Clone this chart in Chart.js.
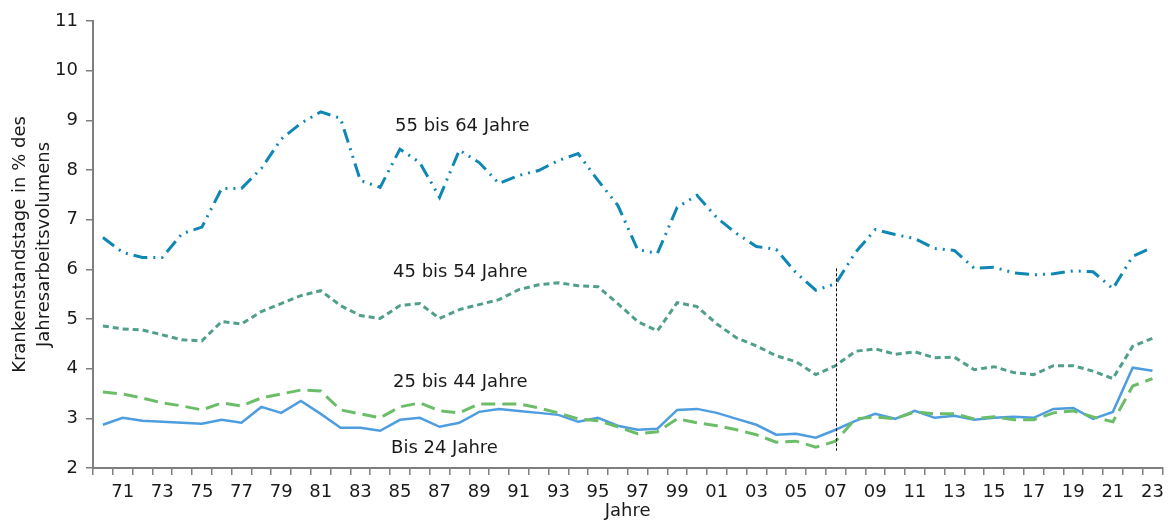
<!DOCTYPE html>
<html>
<head>
<meta charset="utf-8">
<script src="https://cdn.jsdelivr.net/npm/chart.js@4"></script>
<style>
  html, body { margin: 0; padding: 0; background: #fff; }
  #wrap { width: 1171px; height: 522px; }
</style>
</head>
<body>
<div id="wrap"><canvas id="canvas" width="1171" height="522"></canvas></div>
<script>
// Jahre 1970 - 2023
const jahre = [];
for (let j = 1970; j <= 2023; j++) jahre.push(String(j));

const alter55bis64 = [6.64, 6.34, 6.24, 6.24, 6.72, 6.85, 7.63, 7.63, 8.03, 8.62, 8.94, 9.17, 9.04, 7.79, 7.65, 8.42,
  8.15, 7.45, 8.40, 8.15, 7.73, 7.89, 7.99, 8.19, 8.33, 7.79, 7.29, 6.40, 6.32, 7.25, 7.49, 7.04,
  6.72, 6.46, 6.40, 5.93, 5.58, 5.71, 6.34, 6.80, 6.70, 6.62, 6.42, 6.38, 6.02, 6.04, 5.93, 5.89,
  5.91, 5.97, 5.95, 5.61, 6.26, 6.44];

const alter45bis54 = [4.86, 4.80, 4.78, 4.68, 4.58, 4.56, 4.95, 4.90, 5.15, 5.31, 5.47, 5.57, 5.27, 5.07, 5.01, 5.27,
  5.31, 5.01, 5.19, 5.29, 5.39, 5.59, 5.69, 5.73, 5.67, 5.65, 5.31, 4.95, 4.76, 5.33, 5.25, 4.90,
  4.62, 4.46, 4.26, 4.14, 3.88, 4.06, 4.35, 4.40, 4.29, 4.34, 4.22, 4.23, 3.98, 4.04, 3.92, 3.88,
  4.06, 4.06, 3.95, 3.80, 4.45, 4.61];

const alter25bis44 = [3.53, 3.49, 3.41, 3.31, 3.25, 3.17, 3.31, 3.25, 3.41, 3.49, 3.57, 3.55, 3.17, 3.09, 3.01, 3.23,
  3.31, 3.15, 3.11, 3.29, 3.29, 3.29, 3.21, 3.11, 2.99, 2.95, 2.83, 2.69, 2.73, 2.99, 2.91, 2.85,
  2.77, 2.67, 2.52, 2.54, 2.42, 2.54, 2.99, 3.03, 2.99, 3.13, 3.09, 3.09, 2.99, 3.03, 2.97, 2.97,
  3.11, 3.15, 3.03, 2.93, 3.65, 3.80];

const bis24 = [2.87, 3.01, 2.95, 2.93, 2.91, 2.89, 2.97, 2.91, 3.23, 3.11, 3.35, 3.09, 2.81, 2.81, 2.75, 2.97,
  3.01, 2.83, 2.91, 3.13, 3.19, 3.15, 3.11, 3.07, 2.93, 3.01, 2.85, 2.77, 2.79, 3.17, 3.19, 3.11,
  2.99, 2.87, 2.67, 2.69, 2.61, 2.77, 2.95, 3.09, 2.99, 3.15, 3.01, 3.05, 2.97, 3.01, 3.03, 3.01,
  3.19, 3.21, 2.99, 3.13, 4.02, 3.96];

// Beschriftungen im Diagramm: [text, x (Index), y (Wert)]
const beschriftungen = [
  ['55 bis 64 Jahre', 14.75, 8.88],
  ['45 bis 54 Jahre', 14.65, 5.93],
  ['25 bis 44 Jahre', 14.65, 3.72],
  ['Bis 24 Jahre', 14.55, 2.4]
];

// Trennlinie 2007
const trennJahr = '2007';
const trennVon = 2.35;
const trennBis = 6.02;

const schrift = "'DejaVu Sans', sans-serif";
const textFarbe = '#1a1a1a';
const achsenFarbe = '#7f7f7f';

const textPlugin = {
  id: 'textPlugin',
  afterDatasetsDraw(chart) {
    const ctx = chart.ctx;
    const x = chart.scales.x, y = chart.scales.y;
    ctx.save();
    // gestrichelte Linie
    const px = Math.round(x.getPixelForValue(jahre.indexOf(trennJahr))) + 0.5;
    ctx.strokeStyle = '#000';
    ctx.lineWidth = 1;
    ctx.setLineDash([3, 2]);
    ctx.beginPath();
    ctx.moveTo(px, y.getPixelForValue(trennBis));
    ctx.lineTo(px, y.getPixelForValue(trennVon));
    ctx.stroke();
    ctx.setLineDash([]);
    // Texte
    ctx.fillStyle = textFarbe;
    ctx.font = '18px ' + schrift;
    ctx.textAlign = 'left';
    ctx.textBaseline = 'middle';
    beschriftungen.forEach(b => {
      ctx.fillText(b[0], x.getPixelForValue(b[1]), y.getPixelForValue(b[2]));
    });
    ctx.restore();
  }
};

new Chart(document.getElementById('canvas').getContext('2d'), {
  type: 'line',
  data: {
    labels: jahre,
    datasets: [
      {
        label: '55 bis 64 Jahre',
        data: alter55bis64,
        borderColor: '#0f87b5',
        borderWidth: 3,
        borderDash: [14, 6, 2, 6, 2, 6],
        pointRadius: 0,
        tension: 0
      },
      {
        label: '45 bis 54 Jahre',
        data: alter45bis54,
        borderColor: '#4f9f8c',
        borderWidth: 3,
        borderDash: [6, 4],
        pointRadius: 0,
        tension: 0
      },
      {
        label: '25 bis 44 Jahre',
        data: alter25bis44,
        borderColor: '#6cbd68',
        borderWidth: 3,
        borderDash: [14, 7],
        pointRadius: 0,
        tension: 0
      },
      {
        label: 'Bis 24 Jahre',
        data: bis24,
        borderColor: '#4e9ddf',
        borderWidth: 2.5,
        pointRadius: 0,
        tension: 0
      }
    ]
  },
  options: {
    responsive: false,
    animation: false,
    layout: { padding: { top: 21, right: 8, left: 0, bottom: 0 } },
    plugins: {
      legend: { display: false },
      tooltip: { enabled: false }
    },
    scales: {
      x: {
        offset: true,
        afterFit: function (s) { s.height = 54; },
        grid: {
          offset: true,
          drawOnChartArea: false,
          drawTicks: true,
          tickLength: 7,
          color: achsenFarbe,
          lineWidth: 1.5
        },
        border: { display: true, color: achsenFarbe, width: 2 },
        ticks: {
          autoSkip: false,
          maxRotation: 0,
          color: textFarbe,
          font: { family: schrift, size: 18 },
          padding: 7,
          callback: function (v, i) {
            return i % 2 === 1 ? jahre[i].slice(2) : '';
          }
        },
        title: {
          display: true,
          text: 'Jahre',
          color: textFarbe,
          font: { family: schrift, size: 18, lineHeight: 1 },
          padding: { top: 0, bottom: 2 }
        }
      },
      y: {
        min: 2,
        max: 11,
        afterFit: function (s) { s.width = 93; },
        grid: {
          drawOnChartArea: false,
          drawTicks: true,
          tickLength: 7,
          color: achsenFarbe,
          lineWidth: 1.5
        },
        border: { display: true, color: achsenFarbe, width: 2 },
        ticks: {
          stepSize: 1,
          color: textFarbe,
          font: { family: schrift, size: 18 },
          padding: 8
        },
        title: {
          display: true,
          text: ['Krankenstandstage in % des', 'Jahresarbeitsvolumens'],
          color: textFarbe,
          font: { family: schrift, size: 18, lineHeight: 1.35 },
          padding: { top: 8, bottom: 0 }
        }
      }
    }
  },
  plugins: [textPlugin]
});
</script>
</body>
</html>
